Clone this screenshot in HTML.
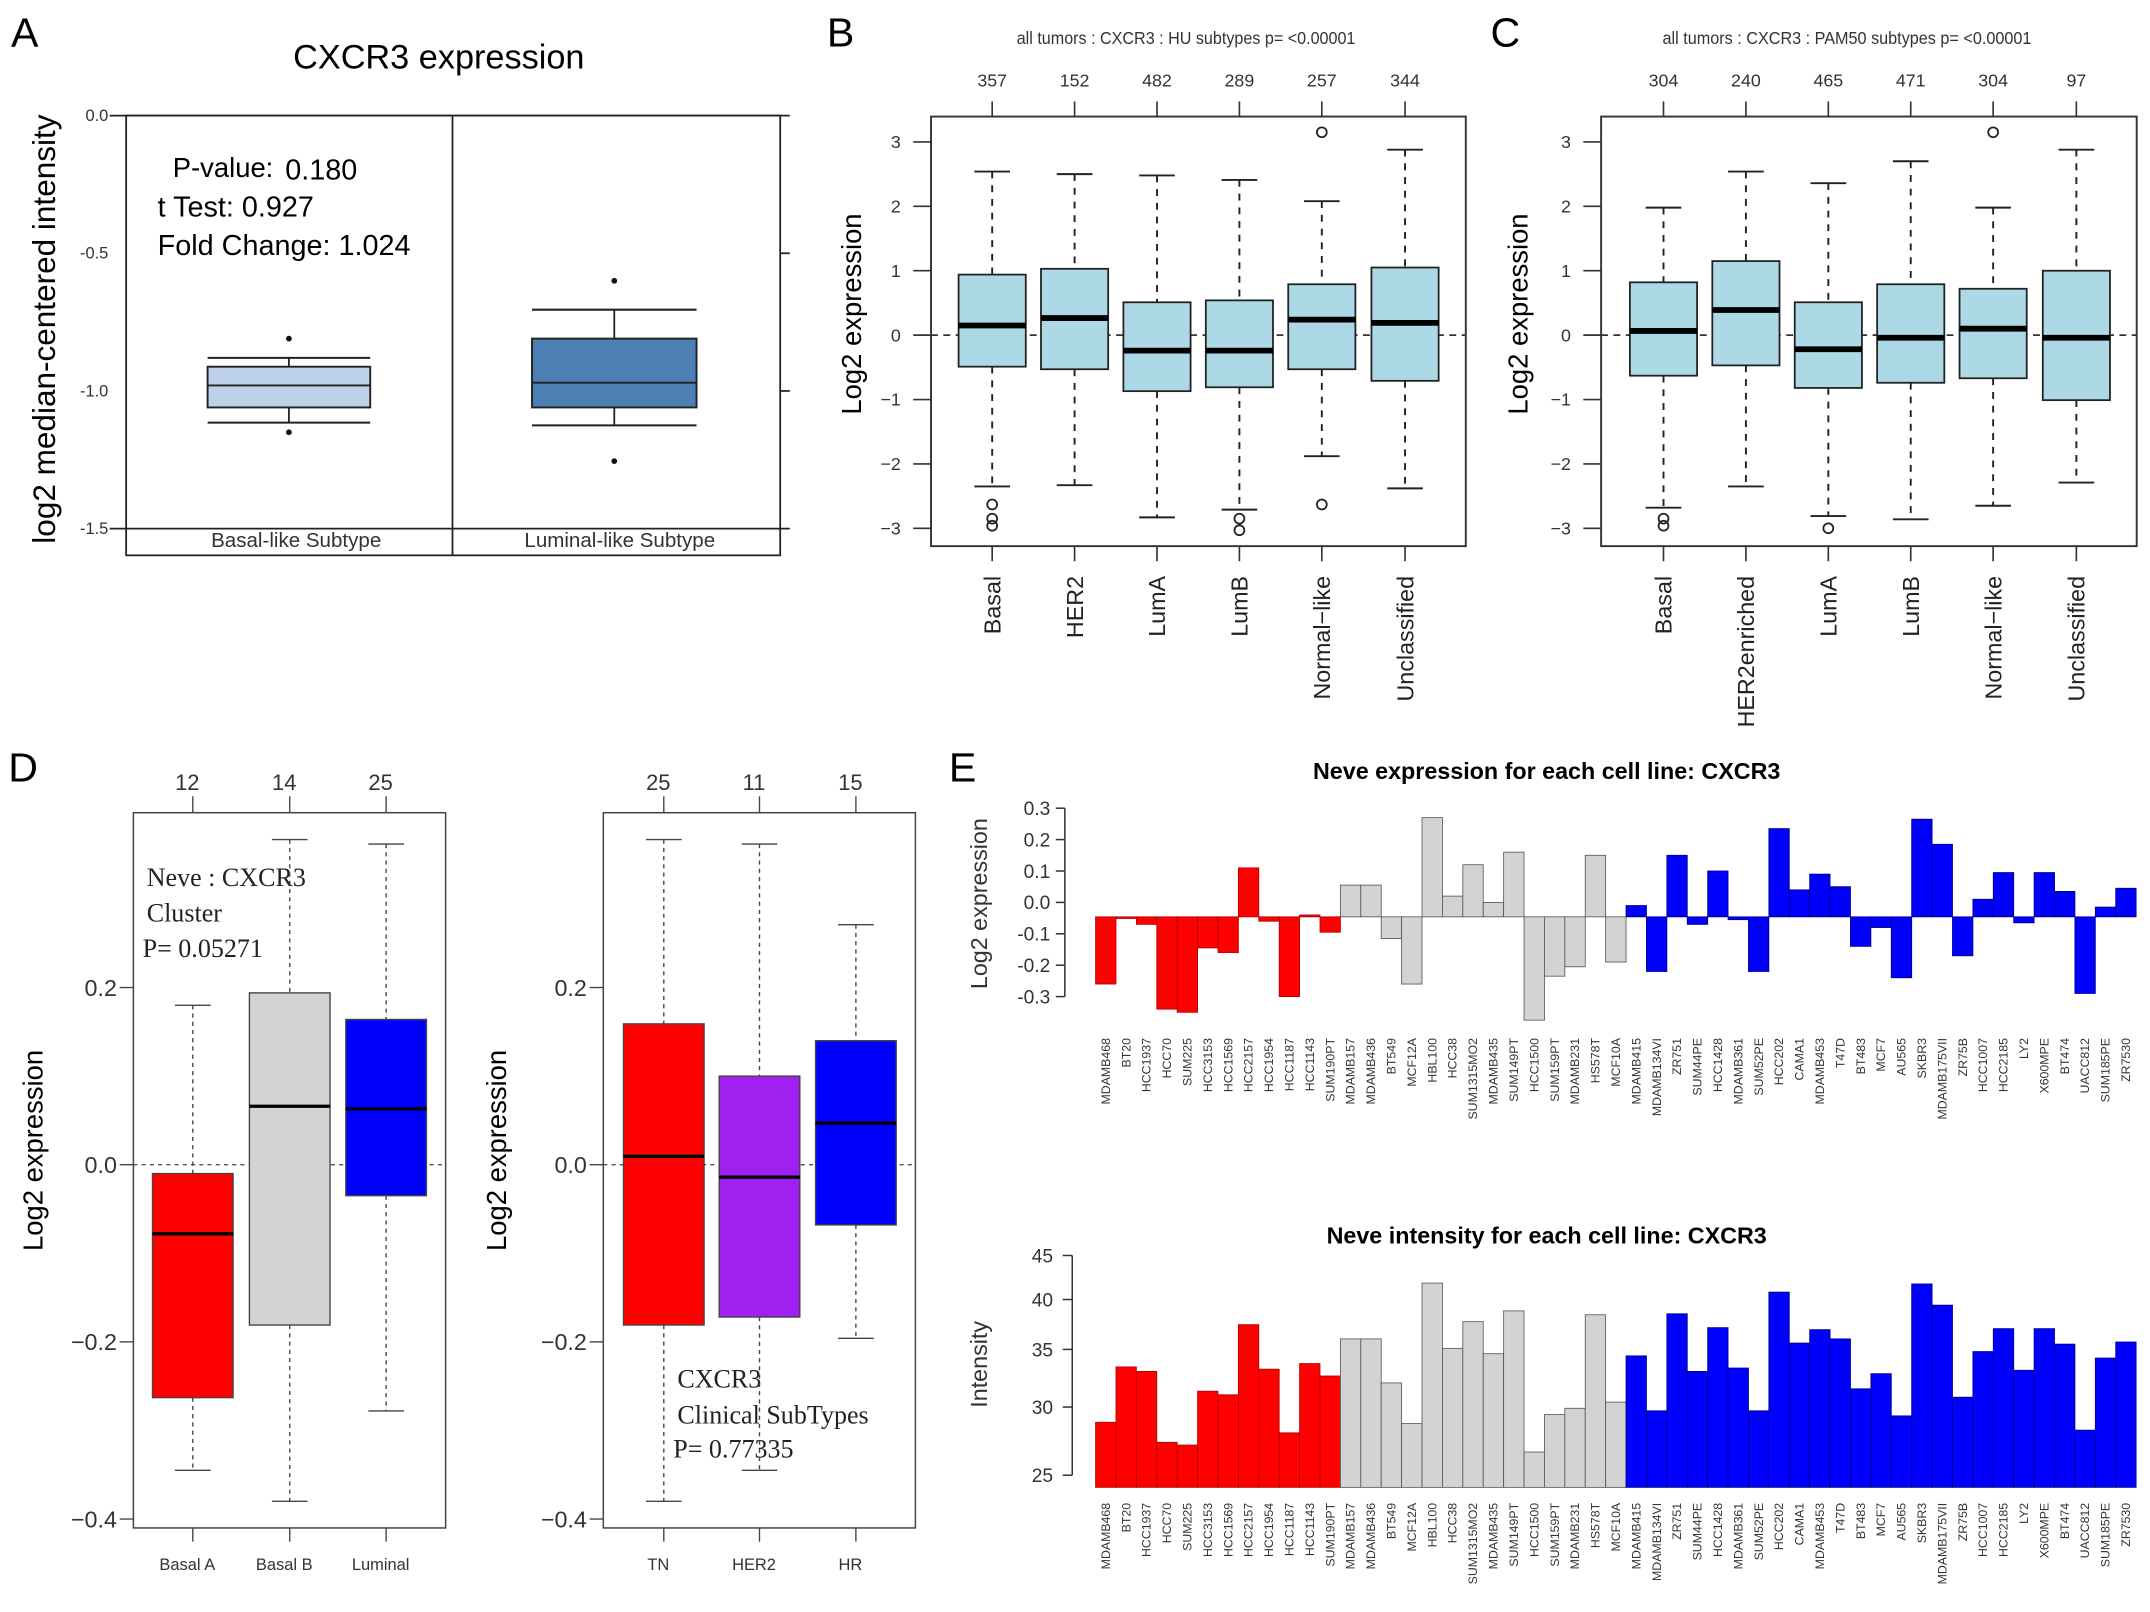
<!DOCTYPE html>
<html><head><meta charset="utf-8"><title>CXCR3 expression figure</title>
<style>
html,body{margin:0;padding:0;background:#fff;}
svg{display:block;font-family:"Liberation Sans",sans-serif;}
.serif{font-family:"Liberation Serif",serif;}
</style></head>
<body>
<svg id="fig" xmlns="http://www.w3.org/2000/svg" width="2150" height="1612" viewBox="0 0 1568 1175.6" preserveAspectRatio="none">
<rect x="0" y="0" width="1568" height="1175.6" fill="#fff"/>
<g id="panelA">
<text x="8" y="34" font-size="30">A</text>
<text x="320" y="50" font-size="25" text-anchor="middle">CXCR3 expression</text>
<rect x="92" y="84.3" width="477" height="320.7" fill="none" stroke="#222" stroke-width="1.3"/>
<line x1="330" y1="84.3" x2="330" y2="405" stroke="#222" stroke-width="1.3"/>
<text x="126" y="129" font-size="20">P-value:</text>
<text x="208" y="131" font-size="21">0.180</text>
<text x="115" y="158" font-size="21">t Test: 0.927</text>
<text x="115" y="186" font-size="21">Fold Change: 1.024</text>
<text x="216" y="399" font-size="15" text-anchor="middle" fill="#333">Basal-like Subtype</text>
<text x="452" y="399" font-size="15" text-anchor="middle" fill="#333">Luminal-like Subtype</text>
<text transform="translate(40,240) rotate(-90)" font-size="23" text-anchor="middle">log2 median-centered intensity</text>
</g>
<g id="panelB">
<text x="603" y="34" font-size="30">B</text>
<text x="865" y="32" font-size="13" text-anchor="middle" fill="#333" textLength="247" lengthAdjust="spacingAndGlyphs">all tumors : CXCR3 : HU subtypes p= &lt;0.00001</text>
<text transform="translate(628,229) rotate(-90)" font-size="20" text-anchor="middle">Log2 expression</text>
</g>
<g id="panelC">
<text x="1087" y="34" font-size="30">C</text>
<text x="1347" y="32" font-size="13" text-anchor="middle" fill="#333" textLength="269" lengthAdjust="spacingAndGlyphs">all tumors : CXCR3 : PAM50 subtypes p= &lt;0.00001</text>
<text transform="translate(1114,229) rotate(-90)" font-size="20" text-anchor="middle">Log2 expression</text>
</g>
<g id="panelD">
<text x="6" y="570" font-size="30">D</text>
<text transform="translate(31,839) rotate(-90)" font-size="20" text-anchor="middle">Log2 expression</text>
<text transform="translate(369,839) rotate(-90)" font-size="20" text-anchor="middle">Log2 expression</text>
<text class="serif" x="107" y="646" font-size="19" fill="#222">Neve : CXCR3</text>
<text class="serif" x="107" y="672" font-size="19" fill="#222">Cluster</text>
<text class="serif" x="104" y="698" font-size="19" fill="#222">P= 0.05271</text>
<text class="serif" x="494" y="1012" font-size="19" fill="#222">CXCR3</text>
<text class="serif" x="494" y="1038" font-size="19" fill="#222">Clinical SubTypes</text>
<text class="serif" x="491" y="1063" font-size="19" fill="#222">P= 0.77335</text>
</g>
<g id="panelE">
<text x="692" y="570" font-size="30">E</text>
<text x="1128" y="568" font-size="17" font-weight="bold" text-anchor="middle">Neve  expression for each cell line: CXCR3</text>
<text x="1128" y="907" font-size="17" font-weight="bold" text-anchor="middle">Neve  intensity for each cell line: CXCR3</text>
<text transform="translate(720,659) rotate(-90)" font-size="17" text-anchor="middle" fill="#333">Log2 expression</text>
<text transform="translate(720,995) rotate(-90)" font-size="17" text-anchor="middle" fill="#333">Intensity</text>
</g>
</svg>
<script>
const aCategories = ['Basal-like', 'Luminal-like'];
const aLow = [-1.115, -1.125];
const aQ1 = [-1.06, -1.06];
const aMed = [-0.98, -0.97];
const aQ3 = [-0.912, -0.81];
const aHigh = [-0.88, -0.705];
const aOutliers = [[-0.81, -1.15], [-0.60, -1.255]];
const aTicks = [0.0, -0.5, -1.0, -1.5];
const bCategories = ['Basal', 'HER2', 'LumA', 'LumB', 'Normal\u2212like', 'Unclassified'];
const bCounts = ['357', '152', '482', '289', '257', '344'];
const bLow = [-2.35, -2.33, -2.83, -2.71, -1.88, -2.38];
const bQ1 = [-0.49, -0.53, -0.87, -0.81, -0.53, -0.71];
const bMed = [0.15, 0.265, -0.24, -0.24, 0.24, 0.19];
const bQ3 = [0.94, 1.03, 0.51, 0.54, 0.79, 1.05];
const bHigh = [2.54, 2.5, 2.48, 2.41, 2.08, 2.88];
const bOutliers = [[-2.63, -2.85, -2.96], [], [], [-2.85, -3.03], [3.15, -2.63], []];
const cCategories = ['Basal', 'HER2enriched', 'LumA', 'LumB', 'Normal\u2212like', 'Unclassified'];
const cCounts = ['304', '240', '465', '471', '304', '97'];
const cLow = [-2.68, -2.35, -2.81, -2.86, -2.65, -2.29];
const cQ1 = [-0.63, -0.47, -0.82, -0.74, -0.67, -1.01];
const cMed = [0.065, 0.39, -0.22, -0.04, 0.1, -0.04];
const cQ3 = [0.82, 1.15, 0.51, 0.79, 0.72, 1.0];
const cHigh = [1.98, 2.54, 2.36, 2.7, 1.98, 2.88];
const cOutliers = [[-2.85, -2.96], [], [-3.0], [], [3.15], []];
const bcTicks = [3, 2, 1, 0, -1, -2, -3];
const dLeftCategories = ['Basal A', 'Basal B', 'Luminal'];
const dLeftCounts = ['12', '14', '25'];
const dLeftLow = [-0.345, -0.38, -0.278];
const dLeftQ1 = [-0.263, -0.181, -0.035];
const dLeftMed = [-0.078, 0.066, 0.063];
const dLeftQ3 = [-0.010, 0.194, 0.164];
const dLeftHigh = [0.18, 0.367, 0.362];
const dLeftColors = ['#ff0000', '#d3d3d3', '#0000ff'];
const dRightCategories = ['TN', 'HER2', 'HR'];
const dRightCounts = ['25', '11', '15'];
const dRightLow = [-0.38, -0.345, -0.196];
const dRightQ1 = [-0.181, -0.172, -0.068];
const dRightMed = [0.0095, -0.014, 0.047];
const dRightQ3 = [0.159, 0.1, 0.14];
const dRightHigh = [0.367, 0.362, 0.271];
const dRightColors = ['#ff0000', '#a020f0', '#0000ff'];
const dTicks = [0.2, 0.0, -0.2, -0.4];
const eCellLines = ['MDAMB468','BT20','HCC1937','HCC70','SUM225','HCC3153','HCC1569','HCC2157','HCC1954','HCC1187','HCC1143','SUM190PT',
 'MDAMB157','MDAMB436','BT549','MCF12A','HBL100','HCC38','SUM1315MO2','MDAMB435','SUM149PT','HCC1500','SUM159PT','MDAMB231','HS578T','MCF10A',
 'MDAMB415','MDAMB134VI','ZR751','SUM44PE','HCC1428','MDAMB361','SUM52PE','HCC202','CAMA1','MDAMB453','T47D','BT483','MCF7','AU565','SKBR3','MDAMB175VII','ZR75B','HCC1007','HCC2185','LY2','X600MPE','BT474','UACC812','SUM185PE','ZR7530'];
const eGroups = ['A','A','A','A','A','A','A','A','A','A','A','A',
 'B','B','B','B','B','B','B','B','B','B','B','B','B','B',
 'L','L','L','L','L','L','L','L','L','L','L','L','L','L','L','L','L','L','L','L','L','L','L','L','L'];
const eExpression = [-0.26,-0.05,-0.07,-0.34,-0.35,-0.145,-0.16,0.11,-0.06,-0.3,-0.04,-0.095,
 0.055,0.055,-0.115,-0.26,0.27,0.02,0.12,0.0,0.16,-0.375,-0.235,-0.205,0.15,-0.19,
 -0.01,-0.22,0.15,-0.07,0.1,-0.055,-0.22,0.235,0.04,0.09,0.05,-0.14,-0.08,-0.24,0.265,0.185,-0.17,0.01,0.095,-0.065,0.095,0.035,-0.29,-0.015,0.045];
const eIntensity = [28.8,33.4,33.0,27.3,27.1,31.3,31.0,37.4,33.2,28.0,33.7,32.6,
 36.0,36.0,32.0,28.7,41.8,35.1,37.7,34.6,38.8,26.6,29.4,29.9,38.4,30.4,
 34.4,29.7,38.5,33.0,37.1,33.3,29.7,40.8,35.6,36.9,36.0,31.5,32.8,29.3,41.7,39.4,30.8,34.8,37.0,33.1,37.0,35.5,28.2,34.2,35.7];
const eExprTicks = [0.3,0.2,0.1,0.0,-0.1,-0.2,-0.3];
const eIntTicks = [45,40,35,30,25];
const eExprBase = -0.046;
const eIntBase = 24.2;

const NS = 'http://www.w3.org/2000/svg';
const svg = document.getElementById('fig');
function mk(tag, attrs, parent) {
  const e = document.createElementNS(NS, tag);
  for (const k in attrs) e.setAttribute(k, attrs[k]);
  (parent || svg).appendChild(e);
  return e;
}
function txt(str, attrs, parent) { const t = mk('text', attrs, parent); t.textContent = str; return t; }

const yA = v => 84.3 - v * 200.8;
const yBC = v => 244.4 - v * 46.96;
const yD = v => 849.4 - v / 0.2 * 129.2;
const yE1 = v => 658.1 - v * 229;
const yE2 = v => 915.6 + (Math.log(45) - Math.log(v)) * 272.6;
const xE = i => 799 + i * 14.88;

const gA = document.getElementById('panelA');
const aX = [210.7, 448];
const aHalf = [59.3, 60];
const aFill = ['#bdd2e8', '#4d7fb4'];
aTicks.forEach(t => {
  const lab = txt(t.toFixed(1), {x: 79, y: yA(t) + 4, 'font-size': 12, 'text-anchor': 'end', fill: '#333'}, gA);
  
  
  if (t === 0 || t === -1.5) {
    const ln = mk('line', {x1: 80, x2: 576, y1: yA(t), y2: yA(t), stroke: '#222', 'stroke-width': 1.3}, gA);
    
    
  } else {
    const tk = mk('line', {x1: 569, x2: 576, y1: yA(t), y2: yA(t), stroke: '#222', 'stroke-width': 1.3}, gA);
    
    
  }
});
aCategories.forEach((c, i) => {
  const cx = aX[i], h = aHalf[i];
  const w1 = mk('line', {x1: cx, x2: cx, y1: yA(aHigh[i]), y2: yA(aQ3[i]), stroke: '#222', 'stroke-width': 1.3}, gA);
  
  
  const w2 = mk('line', {x1: cx, x2: cx, y1: yA(aQ1[i]), y2: yA(aLow[i]), stroke: '#222', 'stroke-width': 1.3}, gA);
  
  
  const c1 = mk('line', {x1: cx - h, x2: cx + h, y1: yA(aHigh[i]), y2: yA(aHigh[i]), stroke: '#222', 'stroke-width': 1.5}, gA);
  
  
  const c2 = mk('line', {x1: cx - h, x2: cx + h, y1: yA(aLow[i]), y2: yA(aLow[i]), stroke: '#222', 'stroke-width': 1.5}, gA);
  
  
  const bx = mk('rect', {x: cx - h, y: yA(aQ3[i]), width: 2 * h, height: yA(aQ1[i]) - yA(aQ3[i]), fill: aFill[i], stroke: '#222', 'stroke-width': 1.4}, gA);
  
  
  const md = mk('line', {x1: cx - h, x2: cx + h, y1: yA(aMed[i]), y2: yA(aMed[i]), stroke: '#222', 'stroke-width': 1.4}, gA);
  
  
  aOutliers[i].forEach(o => {
    const p = mk('circle', {cx: cx, cy: yA(o), r: 2.1, fill: '#111'}, gA);
    
    
  });
});

function drawBC(g, prefix, left, right, xs, cats, counts, lo, q1, med, q3, hi, outs) {
  const top = 85, bot = 398.3;
  const zl = mk('line', {x1: left, x2: right, y1: yBC(0), y2: yBC(0), stroke: '#333', 'stroke-width': 1.2, 'stroke-dasharray': '5,4'}, g);
  
  
  bcTicks.forEach(t => {
    const tk = mk('line', {x1: left - 13, x2: left, y1: yBC(t), y2: yBC(t), stroke: '#333', 'stroke-width': 1.2}, g);
    
    
    const lb = txt(t < 0 ? '\u2212' + Math.abs(t) : String(t), {x: left - 22, y: yBC(t) + 4.5, 'font-size': 13, 'text-anchor': 'end', fill: '#333'}, g);
    
    
  });
  cats.forEach((c, i) => {
    const cx = xs[i], h = 24.5, ch = 13;
    const t1 = mk('line', {x1: cx, x2: cx, y1: top - 11, y2: top, stroke: '#333', 'stroke-width': 1.2}, g);
    
    
    const cl = txt(counts[i], {x: cx, y: 63, 'font-size': 13, 'text-anchor': 'middle', fill: '#333'}, g);
    
    
    const t2 = mk('line', {x1: cx, x2: cx, y1: bot, y2: bot + 11, stroke: '#333', 'stroke-width': 1.2}, g);
    
    
    const xl = txt(c, {transform: 'translate(' + (cx + 6) + ',420) rotate(-90)', 'font-size': 17, 'text-anchor': 'end', fill: '#222'}, g);
    
    
    const w1 = mk('line', {x1: cx, x2: cx, y1: yBC(hi[i]), y2: yBC(q3[i]), stroke: '#222', 'stroke-width': 1.4, 'stroke-dasharray': '5,5'}, g);
    
    
    const w2 = mk('line', {x1: cx, x2: cx, y1: yBC(q1[i]), y2: yBC(lo[i]), stroke: '#222', 'stroke-width': 1.4, 'stroke-dasharray': '5,5'}, g);
    
    
    const c1 = mk('line', {x1: cx - ch, x2: cx + ch, y1: yBC(hi[i]), y2: yBC(hi[i]), stroke: '#222', 'stroke-width': 1.4}, g);
    
    
    const c2 = mk('line', {x1: cx - ch, x2: cx + ch, y1: yBC(lo[i]), y2: yBC(lo[i]), stroke: '#222', 'stroke-width': 1.4}, g);
    
    
    const bx = mk('rect', {x: cx - h, y: yBC(q3[i]), width: 2 * h, height: yBC(q1[i]) - yBC(q3[i]), fill: '#add8e6', stroke: '#222', 'stroke-width': 1.3}, g);
    
    
    const md = mk('line', {x1: cx - h, x2: cx + h, y1: yBC(med[i]), y2: yBC(med[i]), stroke: '#000', 'stroke-width': 4.2}, g);
    
    
    outs[i].forEach(o => {
      const p = mk('circle', {cx: cx, cy: yBC(o), r: 3.6, fill: 'none', stroke: '#222', 'stroke-width': 1.3}, g);
      
      
    });
  });
  const fr = mk('rect', {x: left, y: top, width: right - left, height: bot - top, fill: 'none', stroke: '#333', 'stroke-width': 1.4}, g);
  
  
}
drawBC(document.getElementById('panelB'), 'panel-b', 679, 1069, [723.6, 783.7, 843.8, 903.9, 964, 1024.7],
  bCategories, bCounts, bLow, bQ1, bMed, bQ3, bHigh, bOutliers);
drawBC(document.getElementById('panelC'), 'panel-c', 1167.7, 1558.3, [1213.2, 1273.3, 1333.4, 1393.5, 1453.6, 1514.3],
  cCategories, cCounts, cLow, cQ1, cMed, cQ3, cHigh, cOutliers);

function drawD(g, prefix, left, right, xs, cats, counts, lo, q1, med, q3, hi, colors) {
  const top = 592.7, bot = 1114.3;
  const zl = mk('line', {x1: left, x2: right, y1: yD(0), y2: yD(0), stroke: '#555', 'stroke-width': 1, 'stroke-dasharray': '3,3'}, g);
  
  
  dTicks.forEach(t => {
    const tk = mk('line', {x1: left - 10, x2: left, y1: yD(t), y2: yD(t), stroke: '#444', 'stroke-width': 1}, g);
    
    
    const lb = txt(t < 0 ? '\u2212' + Math.abs(t).toFixed(1) : t.toFixed(1), {x: left - 12, y: yD(t) + 6, 'font-size': 17, 'text-anchor': 'end', fill: '#333'}, g);
    
    
  });
  cats.forEach((c, i) => {
    const cx = xs[i], h = 29.4, ch = 13;
    const t1 = mk('line', {x1: cx, x2: cx, y1: top - 12, y2: top, stroke: '#444', 'stroke-width': 1}, g);
    
    
    const cl = txt(counts[i], {x: cx - 4, y: 576, 'font-size': 16, 'text-anchor': 'middle', fill: '#333'}, g);
    
    
    const t2 = mk('line', {x1: cx, x2: cx, y1: bot, y2: bot + 10, stroke: '#444', 'stroke-width': 1}, g);
    
    
    const xl = txt(c, {x: cx - 4, y: 1145, 'font-size': 12, 'text-anchor': 'middle', fill: '#333'}, g);
    
    
    const w1 = mk('line', {x1: cx, x2: cx, y1: yD(hi[i]), y2: yD(q3[i]), stroke: '#444', 'stroke-width': 1, 'stroke-dasharray': '3,3'}, g);
    
    
    const w2 = mk('line', {x1: cx, x2: cx, y1: yD(q1[i]), y2: yD(lo[i]), stroke: '#444', 'stroke-width': 1, 'stroke-dasharray': '3,3'}, g);
    
    
    const c1 = mk('line', {x1: cx - ch, x2: cx + ch, y1: yD(hi[i]), y2: yD(hi[i]), stroke: '#444', 'stroke-width': 1}, g);
    
    
    const c2 = mk('line', {x1: cx - ch, x2: cx + ch, y1: yD(lo[i]), y2: yD(lo[i]), stroke: '#444', 'stroke-width': 1}, g);
    
    
    const bx = mk('rect', {x: cx - h, y: yD(q3[i]), width: 2 * h, height: yD(q1[i]) - yD(q3[i]), fill: colors[i], stroke: '#444', 'stroke-width': 1}, g);
    
    
    const md = mk('line', {x1: cx - h, x2: cx + h, y1: yD(med[i]), y2: yD(med[i]), stroke: '#000', 'stroke-width': 2.4}, g);
    
    
  });
  const fr = mk('rect', {x: left, y: top, width: right - left, height: bot - top, fill: 'none', stroke: '#444', 'stroke-width': 1.1}, g);
  
  
}
const gD = document.getElementById('panelD');
drawD(gD, 'panel-d-left', 97.3, 325, [140.6, 211.3, 281.6], dLeftCategories, dLeftCounts, dLeftLow, dLeftQ1, dLeftMed, dLeftQ3, dLeftHigh, dLeftColors);
drawD(gD, 'panel-d-right', 440, 667.6, [484.1, 553.9, 624.2], dRightCategories, dRightCounts, dRightLow, dRightQ1, dRightMed, dRightQ3, dRightHigh, dRightColors);

const gE = document.getElementById('panelE');
const groupFill = {A: '#ff0000', B: '#d3d3d3', L: '#0000ff'};
const groupStroke = {A: '#b00000', B: '#555555', L: '#00007a'};
const ax1 = mk('line', {x1: 776.6, x2: 776.6, y1: yE1(0.3), y2: yE1(-0.3), stroke: '#333', 'stroke-width': 1.1}, gE);


eExprTicks.forEach(t => {
  const tk = mk('line', {x1: 770, x2: 776.6, y1: yE1(t), y2: yE1(t), stroke: '#333', 'stroke-width': 1.1}, gE);
  
  
  const lb = txt(t.toFixed(1), {x: 766, y: yE1(t) + 5, 'font-size': 14, 'text-anchor': 'end', fill: '#333'}, gE);
  
  
});
const ax2 = mk('line', {x1: 782, x2: 782, y1: yE2(45), y2: yE2(25), stroke: '#333', 'stroke-width': 1.1}, gE);


eIntTicks.forEach(t => {
  const tk = mk('line', {x1: 775, x2: 782, y1: yE2(t), y2: yE2(t), stroke: '#333', 'stroke-width': 1.1}, gE);
  
  
  const lb = txt(String(t), {x: 768, y: yE2(t) + 5, 'font-size': 14, 'text-anchor': 'end', fill: '#333'}, gE);
  
  
});
const bw = 14.88;
eCellLines.forEach((name, i) => {
  const x = xE(i), grp = eGroups[i];
  const v = eExpression[i];
  const y0 = yE1(eExprBase), y1 = yE1(v);
  const b1 = mk('rect', {x: x, y: Math.min(y0, y1), width: bw, height: Math.max(Math.abs(y1 - y0), 1.2), fill: groupFill[grp], stroke: groupStroke[grp], 'stroke-width': 0.6}, gE);
  
  
  const l1 = txt(name, {transform: 'translate(' + (x + bw / 2 + 3) + ',757) rotate(-90)', 'font-size': 9, 'text-anchor': 'end', fill: '#333'}, gE);
  
  
  const iv = eIntensity[i];
  const z0 = yE2(eIntBase), z1 = yE2(iv);
  const b2 = mk('rect', {x: x, y: z1, width: bw, height: z0 - z1, fill: groupFill[grp], stroke: groupStroke[grp], 'stroke-width': 0.6}, gE);
  
  
  const l2 = txt(name, {transform: 'translate(' + (x + bw / 2 + 3) + ',1096) rotate(-90)', 'font-size': 9, 'text-anchor': 'end', fill: '#333'}, gE);
  
  
});
</script>
</body></html>
